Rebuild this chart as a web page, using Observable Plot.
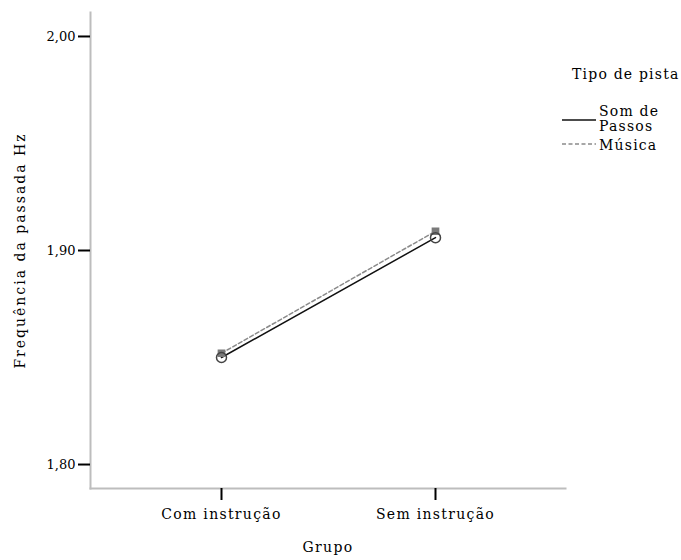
<!DOCTYPE html>
<html>
<head>
<meta charset="utf-8">
<script src="https://cdn.jsdelivr.net/npm/d3@7"></script>
<script src="https://cdn.jsdelivr.net/npm/@observablehq/plot@0.6"></script>
<style>
  html, body { margin: 0; padding: 0; background: #fff; }
  #chart { position: relative; width: 681px; height: 560px; }
  g[aria-label="x-axis tick label"] text { letter-spacing: 1.3px; }
  .xlabel text { letter-spacing: 1.3px; }
  .ylabel text { letter-spacing: 2px; }
</style>
</head>
<body>
<div id="chart"></div>
<script>
const grupos = ["Com instrução", "Sem instrução"];
const series = ["Som de Passos", "Música"];
const somDePassos = [1.850, 1.906];
const musica = [1.852, 1.909];
const yTicks = [1.80, 1.90, 2.00];
const legendTitle = "Tipo de pista";
const xLabel = "Grupo";
const yLabel = "Frequência da passada Hz";

const data = [];
grupos.forEach((g, i) => {
  data.push({grupo: g, serie: series[0], v: somDePassos[i]});
  data.push({grupo: g, serie: series[1], v: musica[i]});
});
const som = data.filter(d => d.serie === series[0]);
const mus = data.filter(d => d.serie === series[1]);

const font = "DejaVu Serif";
const fmt = d => d.toFixed(2).replace(".", ",");

const plot = Plot.plot({
  width: 681,
  height: 560,
  marginLeft: 90,
  marginRight: 116,
  marginTop: 12,
  marginBottom: 72,
  style: {fontFamily: font, fontSize: "13px", color: "#000", background: "#fff"},
  x: {type: "point", domain: grupos, padding: 0.605},
  y: {domain: [1.7888, 2.0112]},
  marks: [
    Plot.frame({anchor: "left", stroke: "#bdbdbd", strokeWidth: 2}),
    Plot.frame({anchor: "bottom", stroke: "#bdbdbd", strokeWidth: 2}),
    Plot.axisY({ticks: yTicks, tickFormat: fmt, tickSize: 12, tickPadding: 3, tickOffset: 0,
      stroke: "#000", strokeWidth: 2, label: null, fontSize: 13}),
    Plot.axisX({tickSize: 12, tickPadding: 9, stroke: "#000", strokeWidth: 2, label: null,
      fontSize: 14, tickOffset: 1}),
    Plot.text([yLabel], {frameAnchor: "left", textAnchor: "middle", dx: -70, rotate: -90,
      fontSize: 14, className: "ylabel"}),
    Plot.text([xLabel], {frameAnchor: "bottom", dy: 63, fontSize: 14, className: "xlabel"}),
    Plot.line(mus, {x: "grupo", y: "v", stroke: "#8a8a8a", strokeWidth: 1.5, strokeDasharray: "4,2.5"}),
    Plot.line(som, {x: "grupo", y: "v", stroke: "#111", strokeWidth: 1.5}),
    Plot.dot(mus, {x: "grupo", y: "v", symbol: "square", r: 3.5, fill: "#7a7a7a", stroke: "#7a7a7a"}),
    Plot.dot(som, {x: "grupo", y: "v", symbol: "circle", r: 5, fill: "none", stroke: "#444", strokeWidth: 1.5})
  ]
});

const svg = d3.select(plot);

// Legend drawn into the same SVG
const lg = svg.append("g").attr("font-family", font).attr("font-size", 14)
  .style("letter-spacing", "1.2px").attr("fill", "#000").attr("text-anchor", "start");
lg.append("text").attr("x", 572).attr("y", 79).text(legendTitle);
lg.append("line").attr("x1", 562).attr("x2", 596).attr("y1", 120).attr("y2", 120)
  .attr("stroke", "#111").attr("stroke-width", 1.5);
const w = series[0].split(" ");
lg.append("text").attr("x", 599).attr("y", 116).text(w.slice(0,2).join(" "));
lg.append("text").attr("x", 599).attr("y", 131).text(w.slice(2).join(" "));
lg.append("line").attr("x1", 562).attr("x2", 596).attr("y1", 144).attr("y2", 144)
  .attr("stroke", "#8a8a8a").attr("stroke-width", 1.5).attr("stroke-dasharray", "4,2.5");
lg.append("text").attr("x", 599).attr("y", 150).text(series[1]);

document.getElementById("chart").appendChild(plot);
</script>
</body>
</html>
